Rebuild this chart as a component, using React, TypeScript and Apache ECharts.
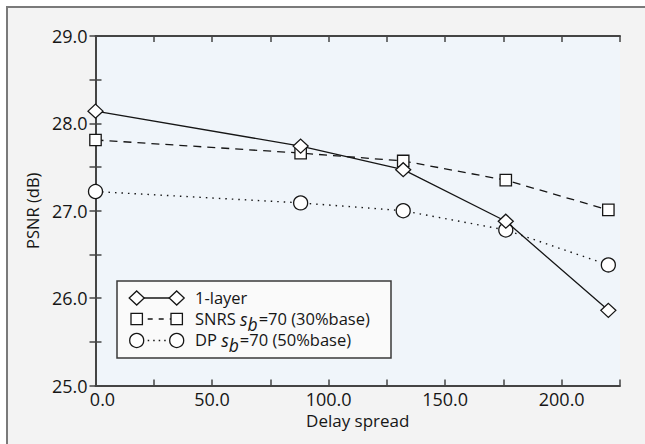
import React, { useEffect, useRef } from "react";
import * as echarts from "echarts";

const delaySpread = [0, 88, 132, 176, 220];
const oneLayer = [28.14, 27.74, 27.47, 26.88, 25.86];
const snrs = [27.81, 27.66, 27.57, 27.35, 27.01];
const dp = [27.22, 27.09, 27.0, 26.78, 26.38];

const seriesNames = ["1-layer", "SNRS", "DP"];
const legendTexts = [
  "{n|1-layer}",
  "{n|SNRS }{i|s}{sub|b}{n|=70 (30%base)}",
  "{n|DP }{i|s}{sub|b}{n|=70 (50%base)}",
];

const FONT = "'Open Sans', 'DejaVu Sans', sans-serif";
const INK = "#161616";
const AXIS = "#444444";

function pairs(xs: number[], ys: number[]) {
  return xs.map((x, i) => [x, ys[i]]);
}

export default function App() {
  const ref = useRef<HTMLDivElement>(null);
  useEffect(() => {
    if (!ref.current) return;
    const chart = echarts.init(ref.current, undefined, { renderer: "svg" });

    const axisCommon = {
      axisLine: { show: true, lineStyle: { color: AXIS, width: 2 } },
      axisTick: { show: true, inside: true, length: 6, lineStyle: { color: AXIS, width: 1.5 } },
      splitLine: { show: false },
    };

    const legX = 117;
    const legY = 281;
    const rowY = [298, 319, 340.5];
    const s1 = 136.7;
    const s2 = 176.7;
    const textStyles = {
      n: { fontFamily: FONT, fontSize: 16.5, lineHeight: 17, verticalAlign: "top", fill: INK },
      i: { fontFamily: FONT, fontSize: 17.5, fontStyle: "italic", lineHeight: 17, verticalAlign: "top", fill: INK },
      sub: { fontFamily: FONT, fontSize: 17.5, fontStyle: "italic", lineHeight: 13, padding: [5, 1, 0, 0], verticalAlign: "top", fill: INK },
    };

    const diamond = (cx: number, cy: number) => ({
      type: "polygon",
      shape: { points: [[cx, cy - 7], [cx + 7.5, cy], [cx, cy + 7], [cx - 7.5, cy]] },
      style: { fill: "#fff", stroke: INK, lineWidth: 1.3 },
      z: 102,
    });
    const square = (cx: number, cy: number) => ({
      type: "rect",
      shape: { x: cx - 5.7, y: cy - 5.7, width: 11.4, height: 11.4 },
      style: { fill: "#fff", stroke: INK, lineWidth: 1.3 },
      z: 102,
    });
    const circ = (cx: number, cy: number) => ({
      type: "circle",
      shape: { cx, cy, r: 7 },
      style: { fill: "#fff", stroke: INK, lineWidth: 1.3 },
      z: 102,
    });
    const seg = (y: number, dash: number[] | null) => ({
      type: "line",
      shape: { x1: s1, y1: y, x2: s2, y2: y },
      style: { stroke: INK, lineWidth: 1.3, lineDash: dash || undefined },
      z: 101,
    });

    chart.setOption({
      animation: false,
      backgroundColor: "transparent",
      textStyle: { fontFamily: FONT },
      grid: {
        left: 95.5,
        top: 36,
        right: 25,
        bottom: 58.5,
        show: true,
        backgroundColor: "#f0f5fa",
        borderWidth: 0,
        containLabel: false,
      },
      xAxis: [
        {
          type: "value",
          position: "bottom",
          min: 0,
          max: 225,
          interval: 25,
          ...axisCommon,
          axisLabel: {
            color: INK,
            fontSize: 18,
            fontFamily: FONT,
            margin: 4,
            showMaxLabel: true,
            formatter: (v: number) =>
              v === 0 ? "{z|0.0}" : v % 50 === 0 ? v.toFixed(1) : "",
            rich: {
              z: { fontSize: 18, fontFamily: FONT, color: INK, padding: [0, 0, 0, 14] },
            },
          },
          name: "Delay spread",
          nameLocation: "middle",
          nameGap: 20,
          nameTextStyle: { color: INK, fontSize: 17, fontFamily: FONT },
        },
        {
          type: "value",
          position: "top",
          min: 0,
          max: 225,
          interval: 25,
          ...axisCommon,
          axisLabel: { show: false },
        },
      ],
      yAxis: [
        {
          type: "value",
          position: "left",
          min: 25,
          max: 29,
          interval: 0.5,
          ...axisCommon,
          axisLabel: {
            color: INK,
            fontSize: 18,
            fontFamily: FONT,
            margin: 8,
            formatter: (v: number) => (Math.abs(v - Math.round(v)) < 1e-6 ? v.toFixed(1) : ""),
          },
          name: "PSNR (dB)",
          nameLocation: "middle",
          nameGap: 48,
          nameTextStyle: { color: INK, fontSize: 16.5, fontFamily: FONT },
        },
        {
          type: "value",
          position: "right",
          min: 25,
          max: 29,
          interval: 0.5,
          ...axisCommon,
          axisLabel: { show: false },
        },
      ],
      series: [
        {
          name: seriesNames[2],
          type: "line",
          data: pairs(delaySpread, dp),
          symbol: "circle",
          symbolSize: 14,
          itemStyle: { color: "#fff", borderColor: INK, borderWidth: 1.3 },
          lineStyle: { color: INK, width: 1.4, type: [1.5, 5] },
          z: 3,
        },
        {
          name: seriesNames[1],
          type: "line",
          data: pairs(delaySpread, snrs),
          symbol: "rect",
          symbolSize: 11.4,
          itemStyle: { color: "#fff", borderColor: INK, borderWidth: 1.3 },
          lineStyle: { color: INK, width: 1.3, type: [8, 6] },
          z: 4,
        },
        {
          name: seriesNames[0],
          type: "line",
          data: pairs(delaySpread, oneLayer),
          symbol: "diamond",
          symbolSize: [15, 14],
          itemStyle: { color: "#fff", borderColor: INK, borderWidth: 1.3 },
          lineStyle: { color: INK, width: 1.3, type: "solid" },
          z: 5,
        },
      ],
      graphic: [
        {
          type: "rect",
          shape: { x: 6, y: 6, width: 645, height: 444 },
          style: { fill: "#f3f3f3" },
          z: -10,
          silent: true,
        },
        {
          type: "line",
          shape: { x1: 6, y1: 7, x2: 645, y2: 7 },
          style: { stroke: "#7a7a7a", lineWidth: 2 },
          z: -9,
        },
        {
          type: "line",
          shape: { x1: 7, y1: 6, x2: 7, y2: 444 },
          style: { stroke: "#7a7a7a", lineWidth: 2 },
          z: -9,
        },
        {
          type: "rect",
          shape: { x: legX, y: legY, width: 274, height: 77 },
          style: { fill: "#fafafa", stroke: "#3a3a3a", lineWidth: 1.5 },
          z: 100,
        },
        seg(rowY[0], null),
        seg(rowY[1], [5, 6]),
        seg(rowY[2], [1.5, 4]),
        diamond(s1, rowY[0]),
        diamond(s2, rowY[0]),
        square(s1, rowY[1]),
        square(s2, rowY[1]),
        circ(s1, rowY[2]),
        circ(s2, rowY[2]),
        ...legendTexts.map((t, k) => ({
          type: "text",
          x: 195,
          y: rowY[k] - 9.5,
          z: 103,
          style: {
            text: t,
            rich: textStyles,
            textVerticalAlign: "top",
            verticalAlign: "top",
            fill: INK,
          },
        })),
      ],
    });
    return () => chart.dispose();
  }, []);

  return (
    <div
      ref={ref}
      style={{ position: "absolute", left: 0, top: 0, width: 645, height: 444, background: "#fff" }}
    />
  );
}
